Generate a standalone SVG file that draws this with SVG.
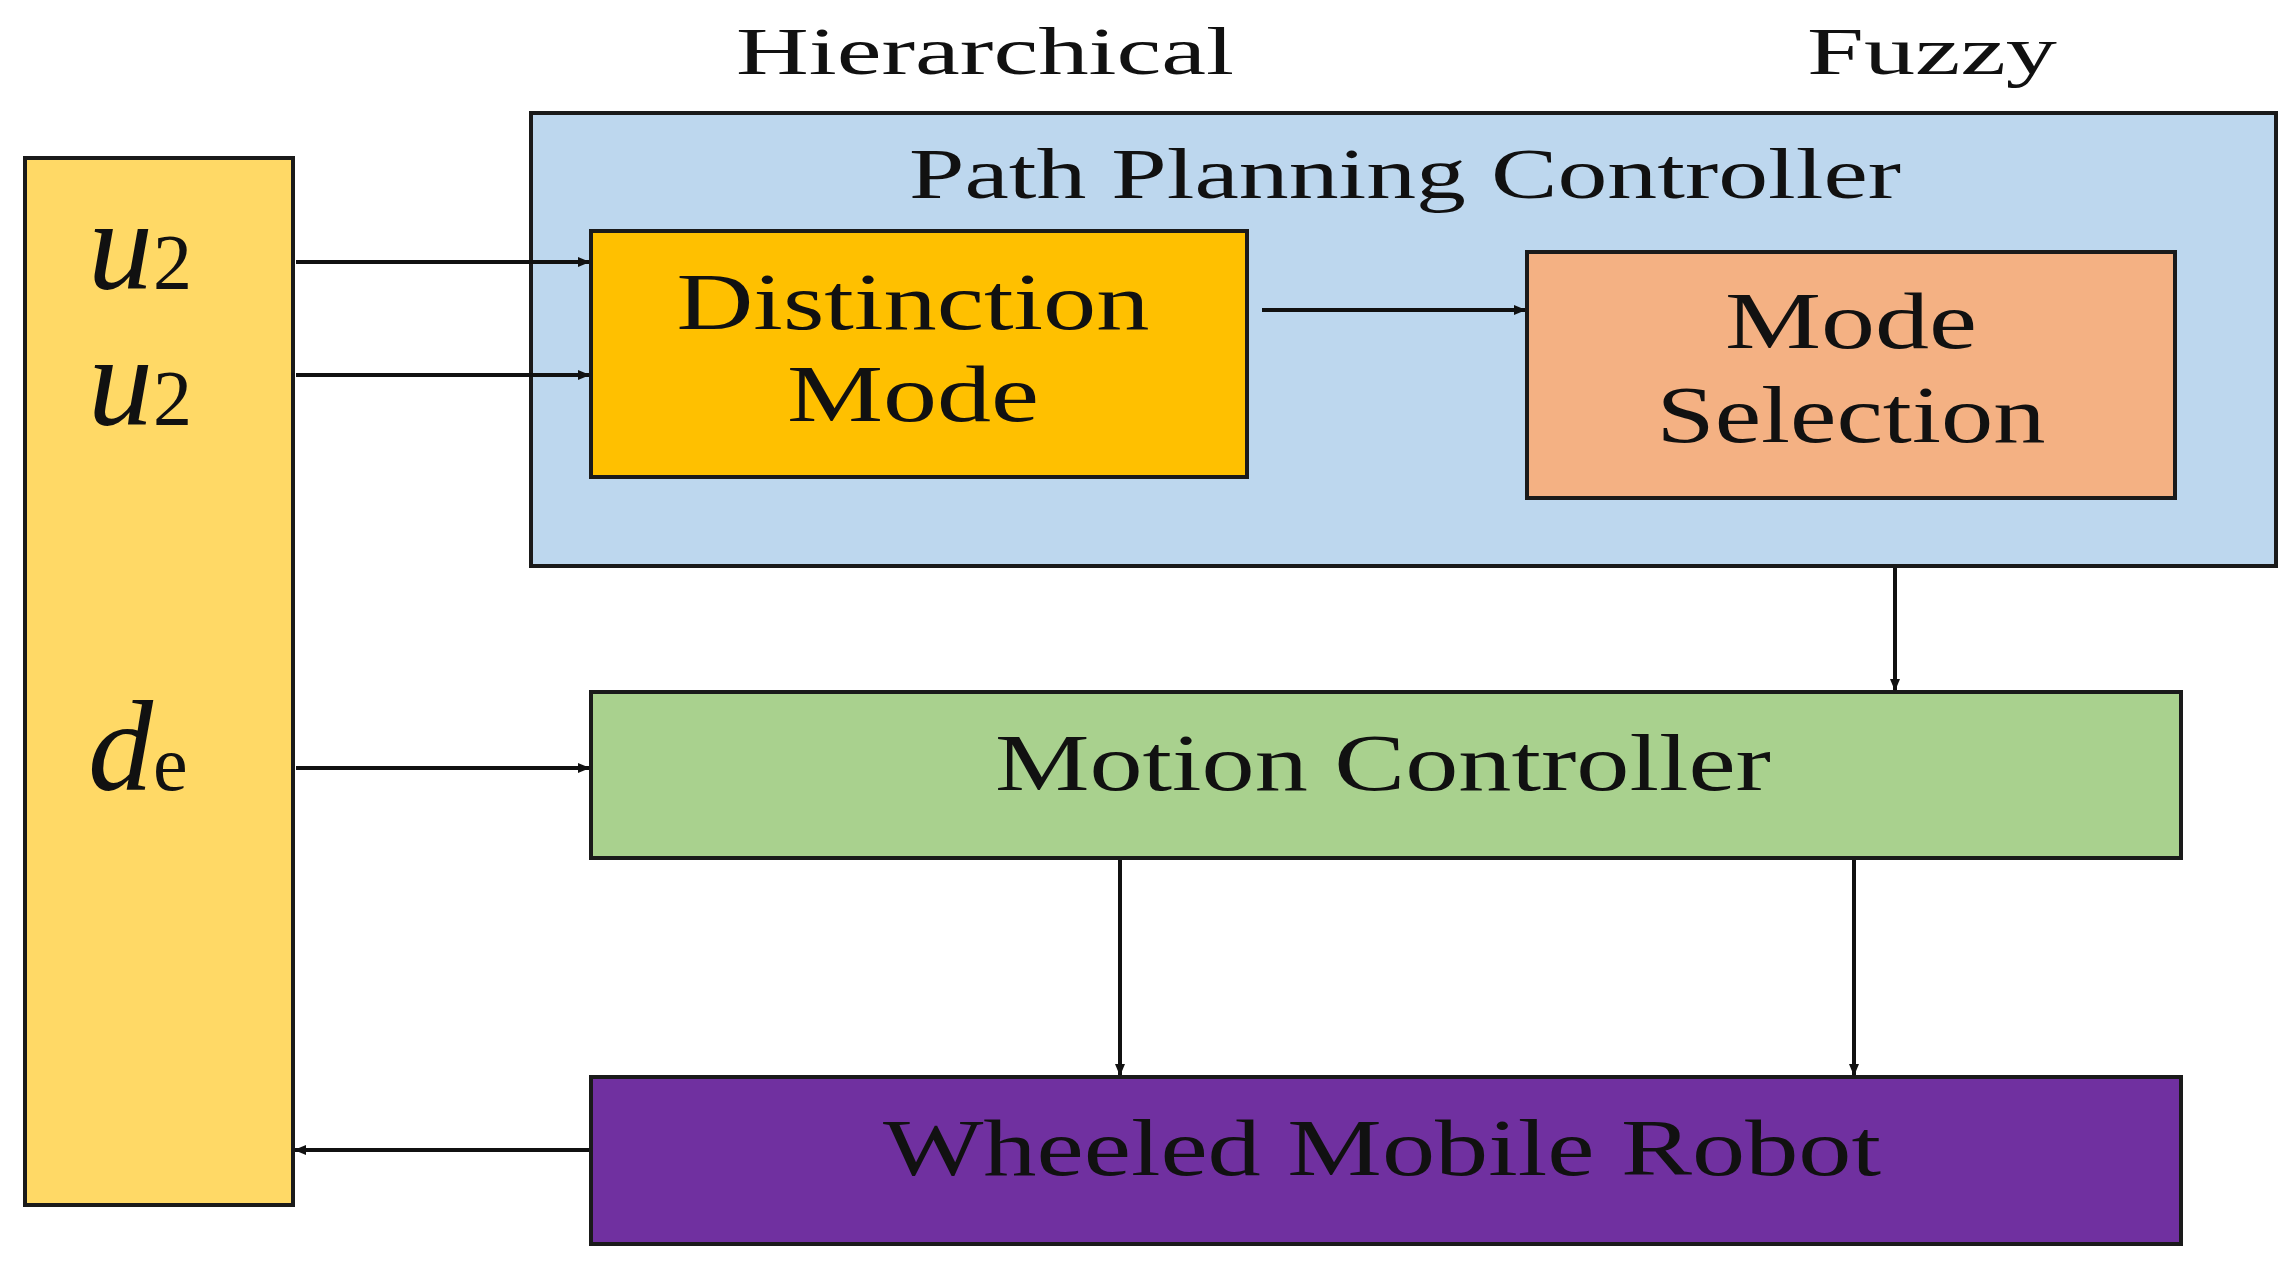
<svg xmlns="http://www.w3.org/2000/svg" width="2295" height="1277" viewBox="0 0 2295 1277">
<style>
.b{stroke:#1a1a1a;stroke-width:4}
.t{font-family:"Liberation Serif",serif;fill:#111;text-anchor:middle}
.c{stroke:#111;stroke-width:4;fill:none;marker-end:url(#a)}
.m{font-family:"Liberation Serif",serif;font-style:italic;fill:#111}
</style>
<defs><marker id="a" markerWidth="12" markerHeight="10" refX="11" refY="5" orient="auto" markerUnits="userSpaceOnUse" viewBox="0 0 12 10"><path d="M0,0L12,5L0,10z" fill="#111"/></marker></defs>
<rect width="2295" height="1277" fill="#fff"/>
<text class="t" x="985" y="74" font-size="68" textLength="498" lengthAdjust="spacingAndGlyphs">Hierarchical</text>
<text class="t" x="1932" y="74" font-size="68" textLength="250" lengthAdjust="spacingAndGlyphs">Fuzzy</text>
<g id="inputs"><rect class="b" x="25" y="158" width="268" height="1047" fill="#FFD966"/>
<text class="m" x="88" y="288" font-size="130">u<tspan font-size="78" font-style="normal">2</tspan></text>
<text class="m" x="88" y="424" font-size="130">u<tspan font-size="78" font-style="normal">2</tspan></text>
<text class="m" x="88" y="790" font-size="130">d<tspan font-size="78" font-style="normal">e</tspan></text></g>
<g id="ppc"><rect class="b" x="531" y="113" width="1745" height="453" fill="#BDD7EE"/>
<text class="t" x="1405" y="198" font-size="72" textLength="992" lengthAdjust="spacingAndGlyphs">Path Planning Controller</text></g>
<g id="distinction"><rect class="b" x="591" y="231" width="656" height="246" fill="#FFC000"/>
<text class="t" x="913" y="329" font-size="80" textLength="473" lengthAdjust="spacingAndGlyphs">Distinction</text>
<text class="t" x="913" y="421" font-size="80" textLength="252" lengthAdjust="spacingAndGlyphs">Mode</text></g>
<g id="modesel"><rect class="b" x="1527" y="252" width="648" height="246" fill="#F4B183"/>
<text class="t" x="1851" y="348" font-size="80" textLength="252" lengthAdjust="spacingAndGlyphs">Mode</text>
<text class="t" x="1851" y="442" font-size="80" textLength="389" lengthAdjust="spacingAndGlyphs">Selection</text></g>
<g id="motion"><rect class="b" x="591" y="692" width="1590" height="166" fill="#A9D18E"/>
<text class="t" x="1383" y="790" font-size="80" textLength="776" lengthAdjust="spacingAndGlyphs">Motion Controller</text></g>
<g id="robot"><rect class="b" x="591" y="1077" width="1590" height="167" fill="#7030A0"/>
<text class="t" x="1382" y="1175" font-size="80" textLength="998" lengthAdjust="spacingAndGlyphs">Wheeled Mobile Robot</text></g>
<g id="connectors">
<path class="c" d="M296,262H589"/>
<path class="c" d="M296,375H589"/>
<path class="c" d="M1262,310H1525"/>
<path class="c" d="M1895,568V690"/>
<path class="c" d="M296,768H589"/>
<path class="c" d="M1120,860V1075"/>
<path class="c" d="M1854,860V1075"/>
<path class="c" d="M589,1150H295"/>
</g>
</svg>
